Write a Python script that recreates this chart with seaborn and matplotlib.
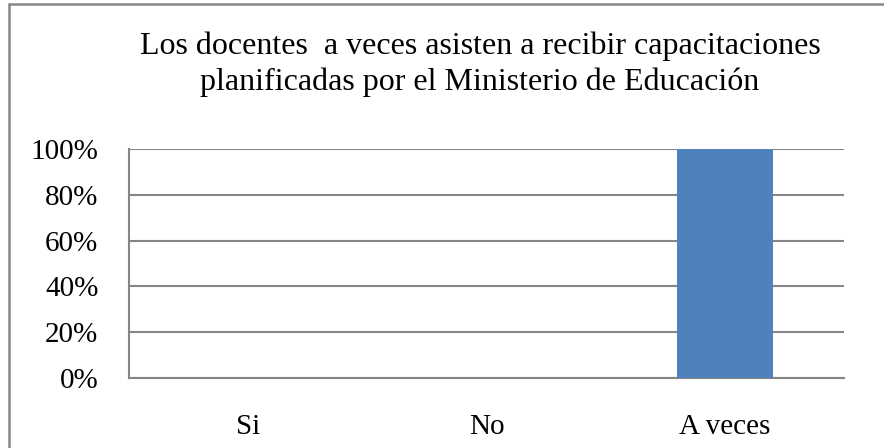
import matplotlib.pyplot as plt
import seaborn as sns
import pandas as pd
from matplotlib.lines import Line2D
from matplotlib.ticker import PercentFormatter

# data
categories = ["Si", "No", "A veces"]
values = [0.0, 0.0, 1.0]
y_ticks = [0, 0.2, 0.4, 0.6, 0.8, 1.0]
title = "Los docentes  a veces asisten a recibir capacitaciones\nplanificadas por el Ministerio de Educación"

df = pd.DataFrame({"respuesta": categories, "porcentaje": values})

sns.set_style("white")
plt.rcParams['font.family'] = ['Liberation Serif', 'DejaVu Serif']
plt.rcParams['text.color'] = 'black'

fig = plt.figure(figsize=(8.84, 4.48), dpi=100)
ax = fig.add_axes([129 / 884, 1 - 378 / 448, (844 - 129) / 884, (378 - 149) / 448])

sns.barplot(data=df, x="respuesta", y="porcentaje", color="#4F81BD",
            width=0.4, saturation=1, linewidth=0, ax=ax, zorder=3)

grid_c = "#868686"
ax.set_ylim(0, 1)
ax.set_xlim(-0.5, 2.5)
ax.set_yticks(y_ticks)
ax.yaxis.set_major_formatter(PercentFormatter(1.0, decimals=0))
ax.grid(axis="y", color=grid_c, linewidth=1.5, zorder=0)
ax.set_axisbelow(True)
for s in ["top", "right"]:
    ax.spines[s].set_visible(False)
ax.spines["left"].set_color(grid_c)
ax.spines["left"].set_linewidth(1.5)
ax.spines["bottom"].set_color(grid_c)
ax.spines["bottom"].set_linewidth(1.5)
ax.tick_params(axis="y", length=0, labelsize=21, labelcolor="black", pad=22)
ax.tick_params(axis="x", length=0, labelsize=21, labelcolor="black", pad=26)
ax.set_xlabel("")
ax.set_ylabel("")

fig.text(480 / 884, 1 - 64 / 448, title, ha="center", va="center",
         fontsize=23, linespacing=1.3, color="black")

# outer chart frame (only top and left edges visible)
border_c = "#878787"
fig.add_artist(Line2D([9 / 884, 1.0], [1 - 4.5 / 448, 1 - 4.5 / 448],
                      transform=fig.transFigure, color=border_c, linewidth=1.8))
fig.add_artist(Line2D([9 / 884, 9 / 884], [1 - 4.5 / 448, 0.0],
                      transform=fig.transFigure, color=border_c, linewidth=1.8))

fig.savefig("out.png", dpi=100, facecolor="white")
